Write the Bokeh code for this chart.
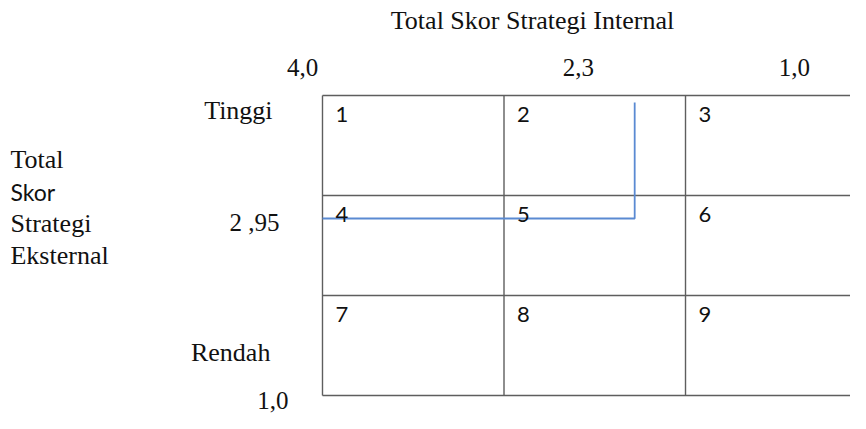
from bokeh.plotting import figure
from bokeh.models import Range1d
from bokeh.core.properties import value
from bokeh.embed import file_html
from bokeh.resources import INLINE

# ---------------- data ----------------
title_text = "Total Skor Strategi Internal"
internal_tick_labels = ["4,0", "2,3", "1,0"]
external_tick_labels = ["2 ,95", "1,0"]
level_labels = ["Tinggi", "Rendah"]
side_title_lines = ["Total", "Skor", "Strategi", "Eksternal"]
internal_bounds = [4.0, 3.0, 2.0, 1.0]      # IFE score boundaries (columns)
external_bounds = [4.0, 3.0, 2.0, 1.0]      # EFE score boundaries (rows)
cell_numbers = [1, 2, 3, 4, 5, 6, 7, 8, 9]
internal_score = 2.28                       # position of the blue vertical line
external_score = 2.77                       # position of the blue horizontal line (as drawn)
line_top = 3.93                             # where the blue vertical line starts

# ---------------- layout (positions in data units) ----------------
T = 0.08   # compensation: rendered text sits a little lower than its anchor
title_pos = (2.843, 4.67 + T)
internal_tick_pos = [(4.11, 4.20 + T), (2.59, 4.20 + T), (1.40, 4.20 + T)]
external_tick_pos = [(4.237, 2.65 + T), (4.187, 0.87 + T)]
level_pos = [(4.275, 3.77 + T), (4.287, 1.35 + T)]
side_title_x = 5.719
side_title_y = [3.28 + T, 2.96 + T, 2.64 + T, 2.32 + T]
NUM_DX = 0.072
NUM_DY = 0.26 - 0.07

SERIF = value("Liberation Serif")
SANS = value("Lato")
GRID_COLOR = "#5e5e5e"
BLUE = "#5a8ad2"

p = figure(width=850, height=413,
           x_range=Range1d(5.774, 1.091), y_range=Range1d(0.82, 4.95),
           x_axis_location=None, y_axis_location=None,
           toolbar_location=None, output_backend="svg", min_border=0)
p.outline_line_color = None
p.grid.visible = False
p.background_fill_color = "white"
p.border_fill_color = "white"

# grid of the matrix
top, bottom = external_bounds[0], external_bounds[-1]
left, right = internal_bounds[0], internal_bounds[-1]
p.multi_line(xs=[[b, b] for b in internal_bounds],
             ys=[[bottom, top] for _ in internal_bounds],
             line_color=GRID_COLOR, line_width=1.4)
p.multi_line(xs=[[left, right] for _ in external_bounds],
             ys=[[b, b] for b in external_bounds],
             line_color=GRID_COLOR, line_width=1.4)

# blue position line
p.line(x=[left, internal_score, internal_score],
       y=[external_score, external_score, line_top],
       line_color=BLUE, line_width=1.8)

# cell numbers
nx, ny, nt = [], [], []
for r in range(3):
    for c in range(3):
        nx.append(internal_bounds[c] - NUM_DX)
        ny.append(external_bounds[r] - NUM_DY)
        nt.append(str(cell_numbers[3 * r + c]))
p.text(x=nx, y=ny, text=nt, text_font=SANS, text_font_size="22px",
       text_color="#111111", text_align="left", text_baseline="alphabetic")

# title
p.text(x=[title_pos[0]], y=[title_pos[1]], text=[title_text], text_font=SERIF,
       text_font_size="26px", text_color="#111111", text_align="center",
       text_baseline="alphabetic")

# internal tick labels
p.text(x=[q[0] for q in internal_tick_pos], y=[q[1] for q in internal_tick_pos],
       text=internal_tick_labels, text_font=SERIF, text_font_size="25px",
       text_color="#111111", text_align="center", text_baseline="alphabetic")

# external tick labels and levels
p.text(x=[q[0] for q in external_tick_pos], y=[q[1] for q in external_tick_pos],
       text=external_tick_labels, text_font=SERIF, text_font_size="25px",
       text_color="#111111", text_align="right", text_baseline="alphabetic")
p.text(x=[q[0] for q in level_pos], y=[q[1] for q in level_pos],
       text=level_labels, text_font=SERIF, text_font_size="26px",
       text_color="#111111", text_align="right", text_baseline="alphabetic")

# side title (external)
for line_text, yy in zip(side_title_lines, side_title_y):
    font = SANS if line_text == "Skor" else SERIF
    size = "23px" if line_text == "Skor" else "26px"
    p.text(x=[side_title_x], y=[yy], text=[line_text], text_font=font,
           text_font_size=size, text_color="#111111", text_align="left",
           text_baseline="alphabetic")

open("out.html", "w").write(file_html(p, INLINE))
